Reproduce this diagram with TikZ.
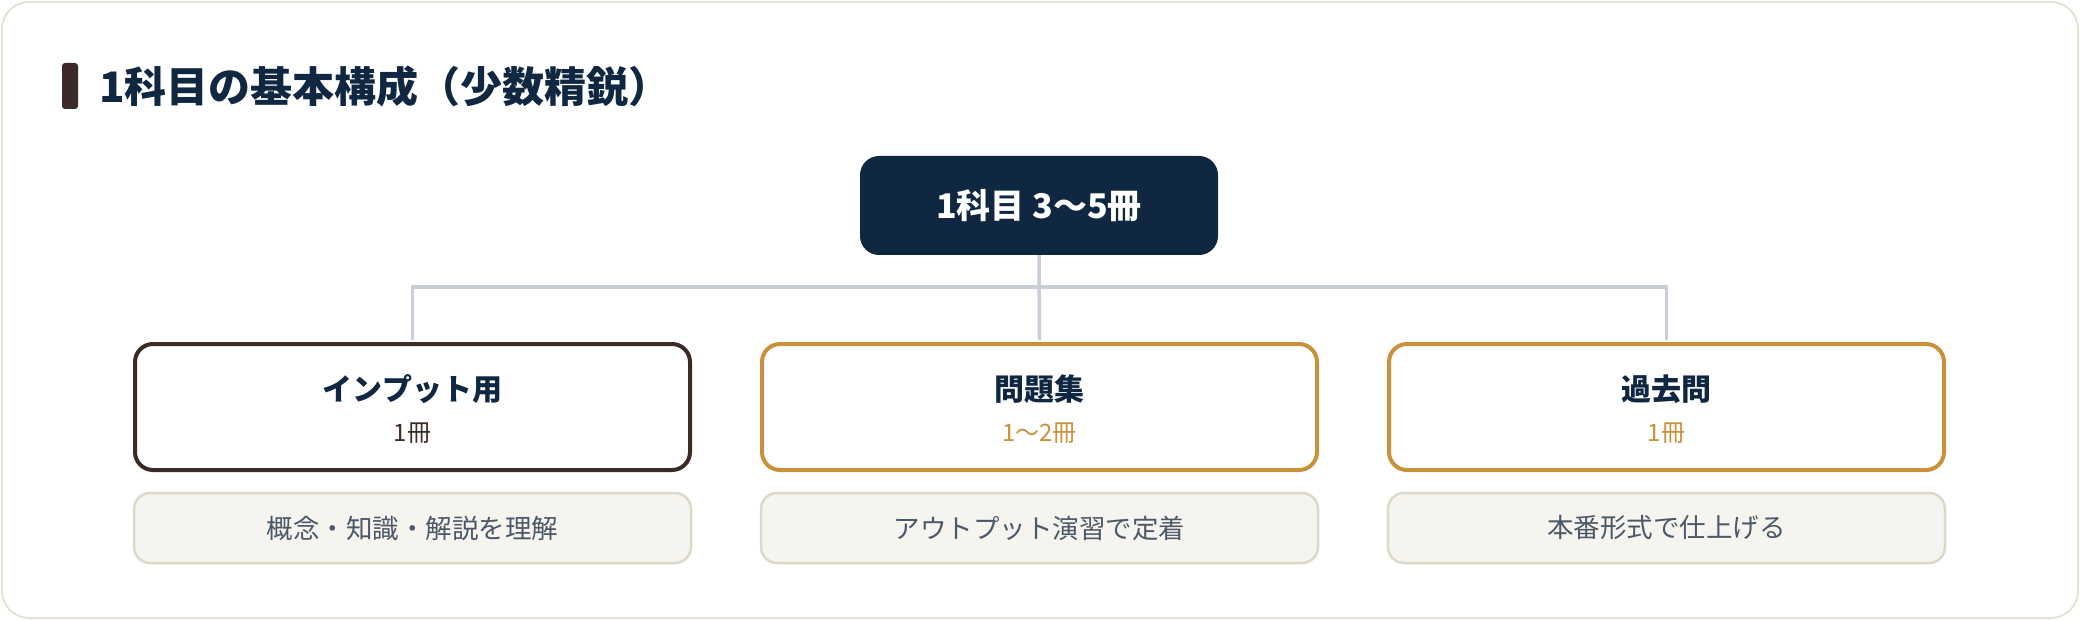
\documentclass[tikz,border=0pt]{standalone}
\usepackage{fontspec}
\setmainfont{Noto Sans CJK JP}
\definecolor{navy}{HTML}{0F2740}
\definecolor{brown}{HTML}{3D2A24}
\definecolor{gold}{HTML}{C9913A}
\definecolor{conn}{HTML}{C9CED8}
\definecolor{descfill}{HTML}{F5F4EF}
\definecolor{descline}{HTML}{DCD9C8}
\definecolor{desctext}{HTML}{4A5868}
\definecolor{cardline}{HTML}{E6E3D6}
\tikzset{
  topbox/.style={fill=navy, rounded corners=19pt, minimum width=358pt, minimum height=99pt, inner sep=0pt, text=white, font=\fontsize{34}{40}\selectfont\bfseries},
  itembox/.style={draw=#1, line width=4pt, fill=white, rounded corners=18pt, minimum width=555pt, minimum height=126pt, inner sep=0pt},
  itemtitle/.style={text=navy, font=\fontsize{30}{36}\selectfont\bfseries, inner sep=0pt},
  itemcount/.style={text=#1, font=\fontsize{24}{28}\selectfont, inner sep=0pt},
  descbox/.style={draw=descline, line width=2.5pt, fill=descfill, rounded corners=16pt, minimum width=557pt, minimum height=70pt, inner sep=0pt, text=desctext, font=\fontsize{26.5}{32}\selectfont},
  connline/.style={draw=conn, line width=3.5pt},
}
\begin{document}
\begin{tikzpicture}[x=1pt,y=-1pt]
\useasboundingbox (0,0) rectangle (2080,620);
\draw[cardline, line width=2pt, fill=white, rounded corners=27pt] (2,2) rectangle (2078,618);
% title
\fill[brown, rounded corners=3pt] (62,63) rectangle (78,109);
\node[anchor=west, inner sep=0pt, text=navy, font=\fontsize{42}{48}\selectfont\bfseries] (title) at (99,87) {1科目の基本構成（少数精鋭）};
% top
\node[topbox] (top) at (1039,205.5) {1科目 3〜5冊};
% boxes
\node[itembox=brown] (b1) at (412.5,407) {};
\node[itembox=gold] (b2) at (1039.5,407) {};
\node[itembox=gold] (b3) at (1666.5,407) {};
\node[itemtitle] (t1) at (412.5,389) {インプット用};
\node[itemtitle] (t2) at (1039.5,389) {問題集};
\node[itemtitle] (t3) at (1666.5,389) {過去問};
\node[itemcount=brown] (c1) at (412.5,433) {1冊};
\node[itemcount=gold] (c2) at (1039.5,433) {1〜2冊};
\node[itemcount=gold] (c3) at (1666.5,433) {1冊};
% descriptions
\node[descbox] (d1) at (412.5,528) {概念・知識・解説を理解};
\node[descbox] (d2) at (1039.5,528) {アウトプット演習で定着};
\node[descbox] (d3) at (1666.5,528) {本番形式で仕上げる};
% connectors
\coordinate (j) at (1039,287);
\draw[connline] (top.south) -- ([yshift=2pt]b2.north);
\draw[connline] ([yshift=2pt]b1.north) -- (b1.north |- j) -- (b3.north |- j) -- ([yshift=2pt]b3.north);
\end{tikzpicture}
\end{document}
